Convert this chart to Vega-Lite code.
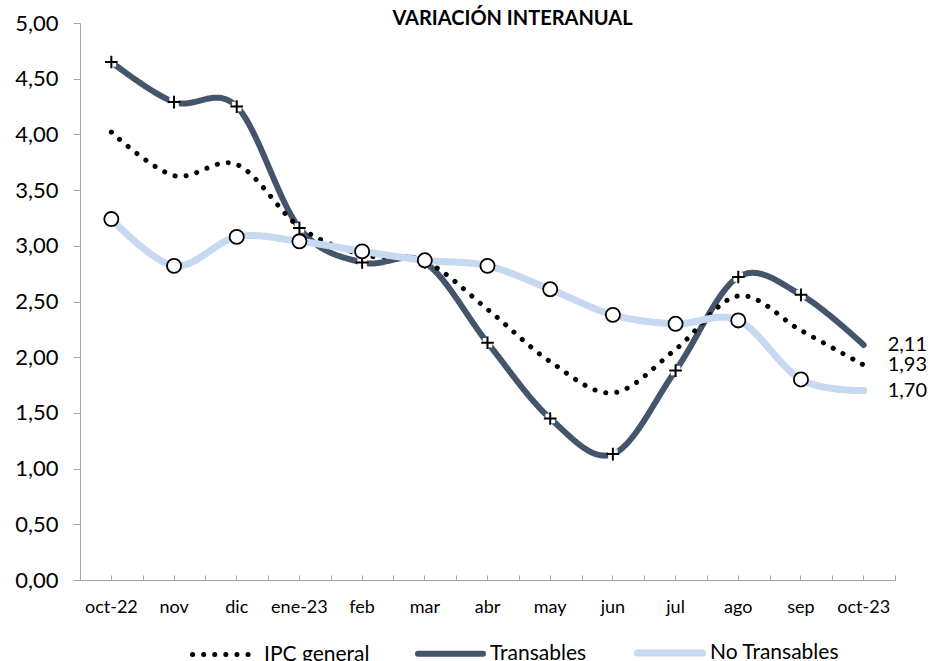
{
  "$schema": "https://vega.github.io/schema/vega-lite/v6.json",
  "width": 815,
  "height": 557,
  "autosize": {"type": "none"},
  "padding": {"left": 80, "top": 23, "right": 38, "bottom": 81},
  "background": "white",
  "config": {
    "locale": {"number": {"decimal": ",", "thousands": ".", "grouping": [3], "currency": ["", " €"]}},
    "font": "Lato",
    "view": {"stroke": null}
  },
  "title": {
    "text": "VARIACIÓN INTERANUAL",
    "fontSize": 20,
    "fontWeight": "bold",
    "font": "Lato",
    "color": "black",
    "anchor": "middle",
    "frame": "group",
    "dx": 25,
    "offset": -33,
    "baseline": "alphabetic"
  },
  "data": {
    "values": [
      {"mes": "oct-22", "serie": "Transables", "valor": 4.65},
      {"mes": "nov", "serie": "Transables", "valor": 4.29},
      {"mes": "dic", "serie": "Transables", "valor": 4.25},
      {"mes": "ene-23", "serie": "Transables", "valor": 3.16},
      {"mes": "feb", "serie": "Transables", "valor": 2.85},
      {"mes": "mar", "serie": "Transables", "valor": 2.85},
      {"mes": "abr", "serie": "Transables", "valor": 2.13},
      {"mes": "may", "serie": "Transables", "valor": 1.45},
      {"mes": "jun", "serie": "Transables", "valor": 1.13},
      {"mes": "jul", "serie": "Transables", "valor": 1.88},
      {"mes": "ago", "serie": "Transables", "valor": 2.72},
      {"mes": "sep", "serie": "Transables", "valor": 2.56},
      {"mes": "oct-23", "serie": "Transables", "valor": 2.11},
      {"mes": "oct-22", "serie": "IPC general", "valor": 4.02},
      {"mes": "nov", "serie": "IPC general", "valor": 3.63},
      {"mes": "dic", "serie": "IPC general", "valor": 3.73},
      {"mes": "ene-23", "serie": "IPC general", "valor": 3.17},
      {"mes": "feb", "serie": "IPC general", "valor": 2.92},
      {"mes": "mar", "serie": "IPC general", "valor": 2.86},
      {"mes": "abr", "serie": "IPC general", "valor": 2.43},
      {"mes": "may", "serie": "IPC general", "valor": 1.96},
      {"mes": "jun", "serie": "IPC general", "valor": 1.68},
      {"mes": "jul", "serie": "IPC general", "valor": 2.07},
      {"mes": "ago", "serie": "IPC general", "valor": 2.55},
      {"mes": "sep", "serie": "IPC general", "valor": 2.24},
      {"mes": "oct-23", "serie": "IPC general", "valor": 1.93},
      {"mes": "oct-22", "serie": "No Transables", "valor": 3.24},
      {"mes": "nov", "serie": "No Transables", "valor": 2.82},
      {"mes": "dic", "serie": "No Transables", "valor": 3.08},
      {"mes": "ene-23", "serie": "No Transables", "valor": 3.04},
      {"mes": "feb", "serie": "No Transables", "valor": 2.95},
      {"mes": "mar", "serie": "No Transables", "valor": 2.87},
      {"mes": "abr", "serie": "No Transables", "valor": 2.82},
      {"mes": "may", "serie": "No Transables", "valor": 2.61},
      {"mes": "jun", "serie": "No Transables", "valor": 2.38},
      {"mes": "jul", "serie": "No Transables", "valor": 2.3},
      {"mes": "ago", "serie": "No Transables", "valor": 2.33},
      {"mes": "sep", "serie": "No Transables", "valor": 1.8},
      {"mes": "oct-23", "serie": "No Transables", "valor": 1.7}
    ]
  },
  "resolve": {"axis": {"x": "independent"}},
  "layer": [
    {
      "mark": {"type": "line", "interpolate": "cardinal", "tension": 0, "strokeCap": "round"},
      "encoding": {
        "x": {
          "field": "mes", "type": "ordinal",
          "sort": ["oct-22", "nov", "dic", "ene-23", "feb", "mar", "abr", "may", "jun", "jul", "ago", "sep", "oct-23"],
          "scale": {"type": "band", "paddingInner": 0, "paddingOuter": 0},
          "axis": {
            "orient": "bottom", "title": null, "labelAngle": 0, "labelFontSize": 18, "labelColor": "black",
            "labelPadding": 23, "tickSize": -5, "tickColor": "#A6A6A6", "domainColor": "#A6A6A6", "grid": false
          }
        },
        "y": {
          "field": "valor", "type": "quantitative",
          "scale": {"domain": [0, 5]},
          "axis": {
            "title": null, "values": [0, 0.5, 1, 1.5, 2, 2.5, 3, 3.5, 4, 4.5, 5], "format": ".2f",
            "labelFontSize": 22, "labelColor": "black", "labelPadding": 15, "tickSize": 7,
            "tickColor": "#A6A6A6", "domainColor": "#A6A6A6", "grid": false
          }
        },
        "color": {
          "field": "serie", "type": "nominal",
          "scale": {"domain": ["IPC general", "Transables", "No Transables"], "range": ["black", "#44546A", "#C6D9F0"]},
          "legend": {
            "orient": "none", "legendX": 110, "legendY": 594, "direction": "horizontal", "title": null,
            "padding": 0, "symbolType": "stroke", "symbolSize": 4225, "labelFontSize": 21, "labelColor": "black",
            "labelOffset": 4, "columnPadding": 36, "symbolStrokeWidth": 6,
            "encode": {"symbols": {"update": {"strokeCap": {"value": "round"}}}}
          }
        },
        "strokeDash": {
          "field": "serie", "type": "nominal",
          "scale": {"domain": ["IPC general", "Transables", "No Transables"], "range": [[0.1, 11], [1, 0], [1, 0]]}
        },
        "strokeWidth": {
          "field": "serie", "type": "nominal",
          "scale": {"domain": ["IPC general", "Transables", "No Transables"], "range": [5, 7, 7]}
        }
      }
    },
    {
      "transform": [{"filter": "datum.serie == 'Transables' && datum.mes != 'oct-23'"}],
      "mark": {"type": "point", "shape": "square", "filled": true, "fill": "white", "size": 90, "strokeWidth": 0, "opacity": 1},
      "encoding": {
        "x": {
          "field": "mes", "type": "ordinal",
          "sort": ["oct-22", "nov", "dic", "ene-23", "feb", "mar", "abr", "may", "jun", "jul", "ago", "sep", "oct-23"],
          "axis": {
            "orient": "bottom", "title": null, "labels": false, "domain": false, "tickBand": "extent",
            "tickSize": -5, "tickColor": "#A6A6A6", "grid": false
          }
        },
        "y": {"field": "valor", "type": "quantitative"}
      }
    },
    {
      "transform": [{"filter": "datum.serie == 'Transables' && datum.mes != 'oct-23'"}],
      "mark": {"type": "point", "shape": "M-1,0H1M0,-1V1", "filled": false, "stroke": "black", "strokeWidth": 2, "size": 160, "opacity": 1},
      "encoding": {
        "x": {"field": "mes", "type": "ordinal", "sort": ["oct-22", "nov", "dic", "ene-23", "feb", "mar", "abr", "may", "jun", "jul", "ago", "sep", "oct-23"], "axis": null},
        "y": {"field": "valor", "type": "quantitative"}
      }
    },
    {
      "transform": [{"filter": "datum.serie == 'No Transables' && datum.mes != 'oct-23'"}],
      "mark": {"type": "point", "shape": "circle", "filled": true, "fill": "white", "stroke": "black", "strokeWidth": 1.8, "size": 200, "opacity": 1},
      "encoding": {
        "x": {"field": "mes", "type": "ordinal", "sort": ["oct-22", "nov", "dic", "ene-23", "feb", "mar", "abr", "may", "jun", "jul", "ago", "sep", "oct-23"], "axis": null},
        "y": {"field": "valor", "type": "quantitative"}
      }
    },
    {
      "transform": [{"filter": "datum.mes == 'oct-23'"}],
      "mark": {"type": "text", "align": "left", "baseline": "middle", "dx": 24, "fontSize": 20, "color": "black"},
      "encoding": {
        "x": {"field": "mes", "type": "ordinal", "sort": ["oct-22", "nov", "dic", "ene-23", "feb", "mar", "abr", "may", "jun", "jul", "ago", "sep", "oct-23"], "axis": null},
        "y": {"field": "valor", "type": "quantitative"},
        "text": {"field": "valor", "type": "quantitative", "format": ".2f"}
      }
    }
  ]
}
